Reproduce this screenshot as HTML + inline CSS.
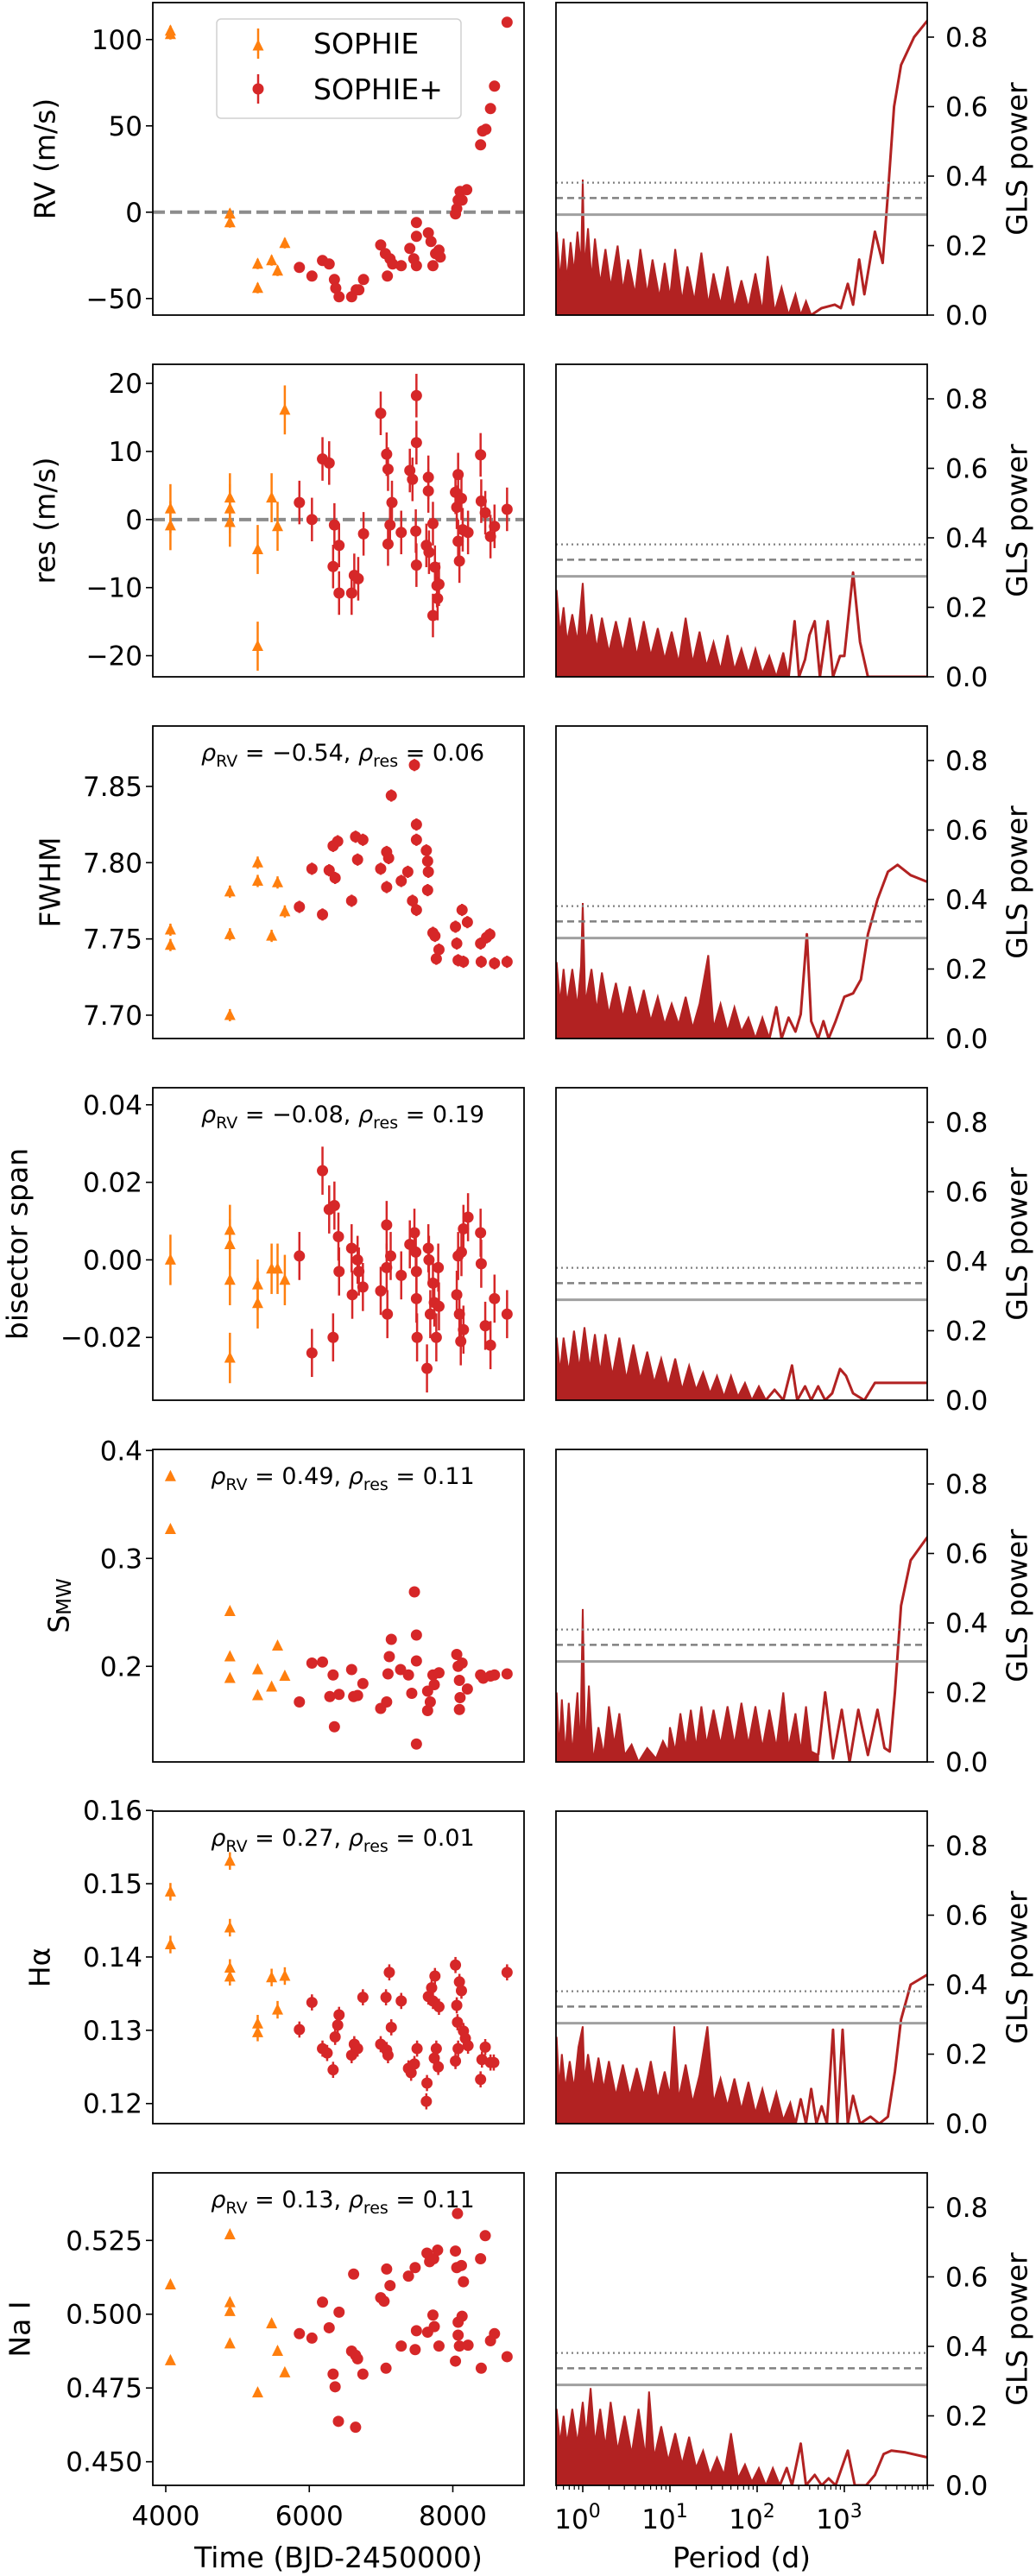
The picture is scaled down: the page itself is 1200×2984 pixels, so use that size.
<!DOCTYPE html>
<html><head><meta charset="utf-8"><style>
html,body{margin:0;padding:0;background:#fff}
svg{display:block}
text{font-family:"DejaVu Sans","Liberation Sans",sans-serif;fill:#000}
</style></head><body>
<svg id="fig" width="1200" height="2984" viewBox="0 0 1200 2984" xmlns="http://www.w3.org/2000/svg"></svg>
<script>
// ---------- data ----------
const rvSophie=[[4065,105],[4065,103],[4894,-1],[4894,-6],[5281,-30],[5281,-44],[5475,-28],[5558,-34],[5659,-18]];
const rvSophiePlus=[[5862,-32],[6037,-37],[6184,-28],[6277,-30],[6350,-39],[6369,-44],[6415,-49],[6590,-49],[6654,-45],[6691,-45],[6756,-39],[6995,-19],[7060,-24],[7088,-37],[7125,-27],[7161,-30],[7281,-31],[7401,-21],[7456,-27],[7493,-6],[7493,-14],[7493,-31],[7659,-12],[7696,-17],[7723,-31],[7760,-24],[7807,-22],[7825,-26],[8037,-1],[8055,2],[8074,7],[8101,12],[8129,7],[8194,13],[8387,39],[8415,47],[8461,48],[8525,60],[8581,73],[8756,110]];
const resSophie=[[4065,1.6],[4065,-0.9],[4894,3.2],[4894,1.6],[4894,-0.4],[5281,-4.4],[5281,-18.6],[5475,3.2],[5558,-1.0],[5659,16.1]];
const resSophiePlus=[[5862,2.5],[6037,0],[6184,8.9],[6277,8.3],[6350,-0.8],[6332,-6.9],[6415,-3.8],[6415,-10.8],[6590,-10.8],[6627,-8.2],[6682,-8.7],[6756,-2.1],[6995,15.6],[7078,9.6],[7097,7.4],[7097,-3.6],[7125,-0.8],[7152,2.5],[7281,-1.9],[7401,7.2],[7438,5.9],[7484,-1.7],[7493,11.3],[7493,-6.7],[7493,18.2],[7631,-3.8],[7659,4.2],[7659,6.2],[7668,-4.8],[7723,-0.6],[7723,-14.1],[7751,-7.0],[7779,-9.7],[7788,-11.6],[7807,-9.5],[8037,4.0],[8055,1.8],[8074,6.6],[8074,-3.2],[8092,-6.1],[8120,3.1],[8138,-1.5],[8212,-1.9],[8387,9.5],[8396,2.7],[8452,1.0],[8525,-2.5],[8581,-1.0],[8756,1.5]];
const fwhmSophie=[[4065,7.756],[4065,7.746],[4894,7.781],[4894,7.753],[4894,7.700],[5281,7.800],[5281,7.788],[5475,7.752],[5558,7.787],[5659,7.768]];
const fwhmSophiePlus=[[5862,7.771],[6037,7.796],[6184,7.766],[6277,7.795],[6332,7.811],[6360,7.790],[6396,7.814],[6590,7.775],[6645,7.817],[6673,7.802],[6747,7.815],[6995,7.796],[7078,7.807],[7106,7.803],[7078,7.784],[7281,7.788],[7373,7.794],[7438,7.775],[7493,7.769],[7465,7.864],[7143,7.844],[7493,7.825],[7493,7.815],[7631,7.808],[7649,7.801],[7659,7.794],[7649,7.782],[7723,7.754],[7751,7.752],[7770,7.737],[7807,7.743],[8037,7.758],[8055,7.747],[8074,7.736],[8129,7.769],[8148,7.735],[8203,7.761],[8387,7.747],[8396,7.735],[8470,7.751],[8516,7.753],[8581,7.734],[8756,7.735]];
const bisSophie=[[4065,0.0],[4894,0.0077],[4894,0.004],[4894,-0.0052],[4894,-0.0253],[5281,-0.0064],[5281,-0.0112],[5475,-0.0023],[5558,-0.0023],[5659,-0.0052]];
const bisSophiePlus=[[5862,0.001],[6037,-0.024],[6184,0.023],[6277,0.013],[6332,-0.020],[6350,0.014],[6406,0.006],[6415,-0.003],[6590,0.003],[6599,-0.009],[6673,0.000],[6691,-0.003],[6747,-0.007],[6995,-0.008],[7078,0.009],[7078,-0.002],[7088,-0.014],[7134,0.001],[7281,-0.004],[7401,0.004],[7465,0.007],[7484,0.002],[7493,-0.003],[7493,-0.010],[7502,-0.020],[7640,-0.028],[7659,0.003],[7668,0.000],[7686,-0.014],[7723,-0.006],[7742,-0.011],[7770,-0.020],[7797,-0.002],[7807,-0.012],[8055,-0.009],[8074,0.001],[8092,-0.014],[8111,-0.021],[8120,0.002],[8148,0.008],[8148,-0.018],[8212,0.011],[8387,0.007],[8396,-0.001],[8452,-0.017],[8525,-0.022],[8581,-0.010],[8756,-0.014]];
const smwSophie=[[4065,0.376],[4065,0.327],[4894,0.251],[4894,0.209],[4894,0.189],[5281,0.197],[5281,0.173],[5475,0.181],[5558,0.219],[5659,0.191]];
const smwSophiePlus=[[5862,0.167],[6037,0.203],[6184,0.204],[6332,0.192],[6350,0.144],[6286,0.172],[6415,0.174],[6590,0.197],[6618,0.172],[6673,0.173],[6747,0.184],[6995,0.161],[7078,0.167],[7097,0.193],[7115,0.209],[7143,0.225],[7272,0.197],[7382,0.192],[7428,0.175],[7465,0.269],[7493,0.229],[7493,0.205],[7493,0.128],[7649,0.177],[7649,0.159],[7686,0.167],[7723,0.192],[7742,0.183],[7807,0.194],[8055,0.211],[8074,0.200],[8092,0.187],[8101,0.171],[8092,0.160],[8129,0.203],[8203,0.179],[8387,0.192],[8424,0.189],[8525,0.191],[8581,0.192],[8756,0.193]];
const haSophie=[[4065,0.1489],[4065,0.1417],[4894,0.1531],[4894,0.1440],[4894,0.1385],[4894,0.1373],[5281,0.1309],[5281,0.1297],[5475,0.1372],[5558,0.1328],[5659,0.1374]];
const haSophiePlus=[[5862,0.1301],[6037,0.1338],[6184,0.1275],[6249,0.1269],[6332,0.1246],[6360,0.1291],[6396,0.1307],[6415,0.1321],[6590,0.1266],[6627,0.1281],[6673,0.1275],[6747,0.1345],[6995,0.1281],[7069,0.1345],[7078,0.1273],[7097,0.1266],[7115,0.1379],[7143,0.1304],[7281,0.1340],[7382,0.1248],[7419,0.1242],[7465,0.1254],[7502,0.1275],[7631,0.1203],[7640,0.1228],[7659,0.1346],[7705,0.1358],[7723,0.1340],[7742,0.1262],[7751,0.1374],[7770,0.1275],[7797,0.1250],[7807,0.1332],[8037,0.1389],[8037,0.1258],[8055,0.1334],[8065,0.1311],[8074,0.1275],[8092,0.1366],[8120,0.1354],[8148,0.1299],[8175,0.1289],[8212,0.1279],[8387,0.1233],[8406,0.1260],[8452,0.1277],[8525,0.1256],[8571,0.1256],[8756,0.1379]];
const naSophie=[[4065,0.510],[4065,0.4843],[4894,0.527],[4894,0.504],[4894,0.501],[4894,0.490],[5281,0.4734],[5475,0.4968],[5558,0.4875],[5659,0.4802]];
const naSophiePlus=[[5862,0.4934],[6037,0.4919],[6184,0.5041],[6277,0.4954],[6332,0.4797],[6360,0.4754],[6406,0.4637],[6415,0.5007],[6590,0.4875],[6618,0.5136],[6645,0.4861],[6645,0.4617],[6673,0.4849],[6747,0.4797],[6995,0.5056],[7042,0.5044],[7069,0.4817],[7078,0.5153],[7125,0.5097],[7281,0.4892],[7382,0.5129],[7475,0.5158],[7475,0.4880],[7493,0.4944],[7640,0.5207],[7649,0.4939],[7677,0.5178],[7723,0.4997],[7733,0.5188],[7742,0.4958],[7788,0.5217],[7807,0.4892],[8037,0.5214],[8037,0.4841],[8065,0.5341],[8055,0.5158],[8074,0.4973],[8074,0.4929],[8092,0.4892],[8120,0.5165],[8129,0.4993],[8148,0.5110],[8212,0.4895],[8387,0.5188],[8396,0.4817],[8452,0.5266],[8525,0.4910],[8581,0.4934],[8756,0.4856]];

// periodograms: [log10(period), GLS power]
const pgRvNoise=[[-0.3,0.24],[-0.26,0.1],[-0.22,0.22],[-0.18,0.1],[-0.14,0.21],[-0.1,0.12],[-0.06,0.24],[-0.02,0.14],[0,0.39],[0.02,0.13],[0.06,0.25],[0.1,0.1],[0.14,0.22],[0.2,0.09],[0.26,0.19],[0.32,0.08],[0.4,0.2],[0.46,0.07],[0.52,0.16],[0.6,0.06],[0.66,0.19],[0.74,0.06],[0.8,0.16],[0.88,0.05],[0.94,0.15],[1.0,0.05],[1.06,0.19],[1.14,0.04],[1.2,0.14],[1.28,0.04],[1.36,0.18],[1.44,0.03],[1.5,0.12],[1.58,0.03],[1.66,0.14],[1.74,0.02],[1.82,0.1],[1.9,0.02],[1.98,0.12],[2.06,0.01],[2.12,0.17],[2.2,0.01],[2.28,0.08],[2.36,0],[2.44,0.06],[2.5,0],[2.56,0.04],[2.62,0]];
const pgRvSmooth=[[2.62,0],[2.74,0.02],[2.89,0.03],[2.96,0.02],[3.04,0.09],[3.1,0.03],[3.17,0.16],[3.23,0.06],[3.35,0.24],[3.44,0.15],[3.5,0.35],[3.57,0.6],[3.65,0.72],[3.8,0.8],[3.96,0.85]];
const pgResNoise=[[-0.3,0.25],[-0.26,0.12],[-0.22,0.2],[-0.18,0.1],[-0.12,0.18],[-0.06,0.1],[0,0.27],[0.04,0.1],[0.1,0.18],[0.16,0.08],[0.22,0.17],[0.3,0.07],[0.38,0.16],[0.46,0.07],[0.54,0.17],[0.62,0.06],[0.7,0.16],[0.78,0.06],[0.86,0.14],[0.94,0.05],[1.02,0.13],[1.1,0.04],[1.18,0.17],[1.26,0.04],[1.34,0.13],[1.42,0.03],[1.5,0.1],[1.58,0.02],[1.66,0.12],[1.74,0.02],[1.82,0.08],[1.9,0.01],[1.98,0.08],[2.06,0.01],[2.14,0.06],[2.22,0],[2.3,0.07],[2.36,0]];
const pgResSmooth=[[2.36,0],[2.43,0.16],[2.48,0],[2.55,0.05],[2.6,0.12],[2.66,0.16],[2.72,0],[2.81,0.16],[2.87,0],[2.95,0.06],[3.0,0.06],[3.1,0.3],[3.18,0.1],[3.27,0],[3.96,0]];
const pgFwhmNoise=[[-0.3,0.22],[-0.26,0.1],[-0.22,0.2],[-0.18,0.1],[-0.12,0.2],[-0.06,0.09],[-0.02,0.21],[0,0.39],[0.03,0.1],[0.1,0.2],[0.16,0.08],[0.22,0.19],[0.3,0.07],[0.38,0.16],[0.46,0.06],[0.54,0.15],[0.62,0.06],[0.7,0.14],[0.78,0.05],[0.86,0.12],[0.94,0.04],[1.02,0.1],[1.1,0.04],[1.18,0.12],[1.26,0.03],[1.34,0.1],[1.44,0.24],[1.5,0.03],[1.58,0.1],[1.66,0.02],[1.74,0.09],[1.82,0.02],[1.9,0.06],[1.98,0],[2.06,0.06],[2.14,0]];
const pgFwhmSmooth=[[2.14,0],[2.22,0.09],[2.28,0],[2.36,0.06],[2.44,0.02],[2.5,0.07],[2.57,0.3],[2.62,0.05],[2.7,0],[2.76,0.05],[2.82,0],[2.9,0.05],[3.0,0.12],[3.1,0.13],[3.19,0.17],[3.27,0.3],[3.38,0.4],[3.5,0.48],[3.61,0.5],[3.76,0.47],[3.96,0.45]];
const pgBisNoise=[[-0.3,0.18],[-0.26,0.08],[-0.22,0.18],[-0.16,0.08],[-0.1,0.2],[-0.04,0.09],[0.02,0.21],[0.08,0.09],[0.14,0.19],[0.2,0.08],[0.26,0.19],[0.34,0.07],[0.42,0.18],[0.5,0.06],[0.58,0.16],[0.66,0.06],[0.74,0.14],[0.82,0.05],[0.9,0.12],[0.98,0.04],[1.06,0.12],[1.14,0.03],[1.22,0.1],[1.3,0.03],[1.38,0.08],[1.46,0.02],[1.54,0.07],[1.62,0.01],[1.7,0.07],[1.78,0.01],[1.86,0.05],[1.94,0],[2.02,0.04],[2.1,0]];
const pgBisSmooth=[[2.1,0],[2.2,0.03],[2.3,0],[2.4,0.1],[2.46,0],[2.55,0.04],[2.62,0],[2.7,0.04],[2.78,0],[2.86,0.02],[2.95,0.09],[3.02,0.07],[3.1,0.02],[3.23,0],[3.35,0.05],[3.5,0.05],[3.96,0.05]];
const pgSmwNoise=[[-0.3,0.2],[-0.27,0.03],[-0.24,0.18],[-0.2,0.02],[-0.16,0.17],[-0.12,0.02],[-0.06,0.2],[-0.03,0.02],[0,0.44],[0.03,0.02],[0.07,0.22],[0.12,0],[0.18,0.1],[0.24,0.02],[0.3,0.16],[0.36,0.05],[0.42,0.14],[0.48,0.02],[0.56,0.05],[0.64,0],[0.74,0.04],[0.84,0.01],[0.92,0.06],[0.98,0.03],[1.0,0.1],[1.06,0.03],[1.12,0.14],[1.18,0.04],[1.24,0.15],[1.3,0.04],[1.36,0.16],[1.42,0.05],[1.5,0.15],[1.58,0.05],[1.66,0.16],[1.74,0.05],[1.82,0.17],[1.9,0.05],[1.98,0.16],[2.06,0.04],[2.14,0.15],[2.22,0.04],[2.3,0.2],[2.36,0.04],[2.44,0.14],[2.5,0.03],[2.56,0.16],[2.62,0.03],[2.7,0.02]];
const pgSmwSmooth=[[2.7,0.02],[2.78,0.2],[2.87,0.01],[2.97,0.15],[3.06,0],[3.16,0.15],[3.27,0.02],[3.38,0.15],[3.46,0.04],[3.52,0.03],[3.58,0.2],[3.65,0.45],[3.76,0.58],[3.96,0.65]];
const pgHaNoise=[[-0.3,0.25],[-0.27,0.1],[-0.24,0.2],[-0.2,0.1],[-0.15,0.18],[-0.1,0.1],[-0.05,0.22],[0,0.28],[0.02,0.12],[0.06,0.2],[0.12,0.1],[0.18,0.19],[0.24,0.1],[0.3,0.18],[0.38,0.08],[0.46,0.17],[0.54,0.08],[0.62,0.16],[0.7,0.08],[0.78,0.18],[0.86,0.07],[0.94,0.15],[1.0,0.08],[1.05,0.28],[1.1,0.07],[1.18,0.17],[1.26,0.06],[1.34,0.14],[1.43,0.28],[1.5,0.06],[1.58,0.13],[1.66,0.05],[1.74,0.13],[1.82,0.04],[1.9,0.12],[1.98,0.03],[2.06,0.1],[2.14,0.02],[2.22,0.09],[2.3,0.01],[2.38,0.06],[2.44,0]];
const pgHaSmooth=[[2.44,0],[2.5,0.07],[2.56,0],[2.62,0.1],[2.68,0],[2.74,0.05],[2.8,0],[2.87,0.27],[2.92,0],[2.98,0.27],[3.04,0],[3.1,0.08],[3.18,0],[3.3,0.02],[3.4,0],[3.5,0.02],[3.58,0.15],[3.65,0.3],[3.76,0.4],[3.96,0.43]];
const pgNaNoise=[[-0.3,0.22],[-0.26,0.12],[-0.22,0.2],[-0.18,0.12],[-0.12,0.22],[-0.06,0.12],[0,0.24],[0.04,0.14],[0.09,0.28],[0.14,0.12],[0.2,0.22],[0.26,0.11],[0.32,0.24],[0.4,0.1],[0.48,0.2],[0.56,0.09],[0.64,0.22],[0.72,0.08],[0.76,0.27],[0.82,0.08],[0.9,0.17],[0.98,0.07],[1.06,0.15],[1.14,0.06],[1.22,0.14],[1.3,0.05],[1.38,0.1],[1.46,0.03],[1.54,0.08],[1.62,0.03],[1.7,0.15],[1.78,0.02],[1.86,0.06],[1.94,0.01],[2.02,0.05],[2.1,0],[2.18,0.05],[2.26,0]];
const pgNaSmooth=[[2.26,0],[2.34,0.05],[2.4,0],[2.5,0.12],[2.56,0],[2.66,0.03],[2.74,0],[2.82,0.02],[2.9,0],[3.04,0.1],[3.12,0],[3.25,0],[3.35,0.03],[3.45,0.09],[3.54,0.1],[3.7,0.095],[3.96,0.08]];

const fapLevels=[0.381,0.337,0.289];
const timeTicks=[4000,6000,8000];
const powerTicks=[0,0.2,0.4,0.6,0.8];
const periodTickExps=[0,1,2,3];

// ---------- layout ----------
const NS='http://www.w3.org/2000/svg';
const svg=document.getElementById('fig');
const LX0=177,LX1=607,RX0=644,RX1=1074,H=362;
function rowTop(i){return 3+419*i;}
function xTime(t){return 192+(t-4000)*166.25/2000;}
function xLogP(l){return 675+l*101;}
function yPow(p,T){return T+H-p*402.5;}
function el(tag,parent){const e=document.createElementNS(NS,tag);(parent||svg).appendChild(e);return e;}
function set(e,o){for(const k in o)e.setAttribute(k,o[k]);return e;}

const rows=[
 {key:'rv',ylab:'RV (m/s)',ylx:52,dom:[-59.6,121.4],ticks:[-50,0,50,100],fmt:v=>String(v).replace('-','\u2212'),s:rvSophie,sp:rvSophiePlus,err:1.2,errO:3,zero:true,ann:null,pn:pgRvNoise,ps:pgRvSmooth},
 {key:'res',ylab:'res (m/s)',ylx:52,dom:[-23.1,22.8],ticks:[-20,-10,0,10,20],fmt:v=>String(v).replace('-','\u2212'),s:resSophie,sp:resSophiePlus,err:3.2,errO:3.6,zero:true,ann:null,pn:pgResNoise,ps:pgResSmooth},
 {key:'fwhm',ylab:'FWHM',ylx:58,dom:[7.6847,7.8896],ticks:[7.70,7.75,7.80,7.85],fmt:v=>v.toFixed(2),s:fwhmSophie,sp:fwhmSophiePlus,err:0.004,errO:0.004,ann:['\u22120.54','0.06'],pn:pgFwhmNoise,ps:pgFwhmSmooth},
 {key:'bisector',ylab:'bisector span',ylx:20,dom:[-0.0362,0.0444],ticks:[-0.02,0,0.02,0.04],fmt:v=>v.toFixed(2).replace('-','\u2212'),s:bisSophie,sp:bisSophiePlus,err:0.0062,errO:0.0065,ann:['\u22120.08','0.19'],pn:pgBisNoise,ps:pgBisSmooth},
 {key:'smw',ylab:'SMW',ylx:68,dom:[0.1114,0.401],ticks:[0.2,0.3,0.4],fmt:v=>v.toFixed(1),s:smwSophie,sp:smwSophiePlus,err:0.0008,errO:0.0008,ann:['0.49','0.11'],pn:pgSmwNoise,ps:pgSmwSmooth},
 {key:'halpha',ylab:'H\u03b1',ylx:46,dom:[0.11726,0.1599],ticks:[0.12,0.13,0.14,0.15,0.16],fmt:v=>v.toFixed(2),s:haSophie,sp:haSophiePlus,err:0.0011,errO:0.0012,ann:['0.27','0.01'],pn:pgHaNoise,ps:pgHaSmooth},
 {key:'nai',ylab:'Na I',ylx:23,dom:[0.442,0.5479],ticks:[0.45,0.475,0.5,0.525],fmt:v=>v.toFixed(3),s:naSophie,sp:naSophiePlus,err:0.0014,errO:0.0015,ann:['0.13','0.11'],pn:pgNaNoise,ps:pgNaSmooth}
];

// clip paths
const defs=el('defs');
rows.forEach((r,i)=>{
  const T=rowTop(i);
  const cp=el('clipPath',defs);cp.setAttribute('id','cl'+i);
  set(el('rect',cp),{x:LX0,y:T,width:LX1-LX0,height:H});
  const cp2=el('clipPath',defs);cp2.setAttribute('id','cr'+i);
  set(el('rect',cp2),{x:RX0,y:T,width:RX1-RX0,height:H});
});

function triangle(g,x,y,color){
  const p=el('polygon',g);
  set(p,{points:`${x},${y-7.5} ${x-6.5},${y+5.5} ${x+6.5},${y+5.5}`,fill:color});
  return p;
}

rows.forEach((r,i)=>{
  const T=rowTop(i),B=T+H;
  const yV=v=>T+(r.dom[1]-v)/(r.dom[1]-r.dom[0])*H;
  // ---- left panel ----
  const gl=el('g');
  
  
  const pts=el('g',gl);pts.setAttribute('clip-path',`url(#cl${i})`);
  if(r.zero){
    const z=el('line',pts);
    set(z,{x1:LX0,x2:LX1,y1:yV(0),y2:yV(0),stroke:'#8c8c8c','stroke-width':4,'stroke-dasharray':'14,6'});
    
    
  }
  r.s.forEach(d=>{
    const x=xTime(d[0]),y=yV(d[1]),e=(r.errO/(r.dom[1]-r.dom[0]))*H;
    const g=el('g',pts);
    
    
    set(el('line',g),{x1:x,x2:x,y1:y-e,y2:y+e,stroke:'#ff7f0e','stroke-width':2.5});
    triangle(g,x,y,'#ff7f0e');
  });
  r.sp.forEach(d=>{
    const x=xTime(d[0]),y=yV(d[1]),e=(r.err/(r.dom[1]-r.dom[0]))*H;
    const g=el('g',pts);
    
    
    set(el('line',g),{x1:x,x2:x,y1:y-e,y2:y+e,stroke:'#d62728','stroke-width':2.5});
    set(el('ellipse',g),{cx:x,cy:y,rx:6.5,ry:6.5,fill:'#d62728'});
  });
  set(el('rect',gl),{x:LX0,y:T,width:LX1-LX0,height:H,fill:'none',stroke:'#000','stroke-width':1.8});
  r.ticks.forEach(v=>{
    const y=yV(v);
    set(el('line',gl),{x1:LX0-8,x2:LX0,y1:y,y2:y,stroke:'#000','stroke-width':1.6});
    const t=el('text',gl);
    set(t,{x:LX0-12,y:y+11,'text-anchor':'end','font-size':31});
    t.textContent=r.fmt(v);
    
    
  });
  const yl=el('text',gl);
  const cy=T+H/2;
  set(yl,{x:r.ylx,y:cy,'text-anchor':'middle','font-size':33,transform:`rotate(-90 ${r.ylx} ${cy})`,'dominant-baseline':'central'});
  if(r.key==='smw'){
    yl.textContent='S';
    const sub=el('tspan',yl);set(sub,{'font-size':23,dy:7});sub.textContent='MW';
  } else yl.textContent=r.ylab;
  
  
  if(r.ann){
    const a=el('text',gl);
    set(a,{x:397,y:T+40,'text-anchor':'middle','font-size':27});
    const p1=el('tspan',a);p1.setAttribute('font-style','italic');p1.textContent='\u03c1';
    const s1=el('tspan',a);set(s1,{'font-size':19,dy:7});s1.textContent='RV';
    const m1=el('tspan',a);m1.setAttribute('dy',-7);m1.textContent=' = '+r.ann[0]+', ';
    const p2=el('tspan',a);p2.setAttribute('font-style','italic');p2.textContent='\u03c1';
    const s2=el('tspan',a);set(s2,{'font-size':19,dy:7});s2.textContent='res';
    const m2=el('tspan',a);m2.setAttribute('dy',-7);m2.textContent=' = '+r.ann[1];
    
    
  }
  // ---- right panel ----
  const gr=el('g');
  
  
  const pc=el('g',gr);pc.setAttribute('clip-path',`url(#cr${i})`);
  const ptsN=r.pn.map(d=>xLogP(d[0]).toFixed(1)+','+yPow(d[1],T).toFixed(1));
  const poly=el('polygon',pc);
  set(poly,{points:`${xLogP(r.pn[0][0])},${B} `+ptsN.join(' ')+` ${xLogP(r.pn[r.pn.length-1][0])},${B}`,fill:'#b22222',stroke:'#b22222','stroke-width':2,'stroke-linejoin':'miter'});
  
  
  const pl=el('polyline',pc);
  set(pl,{points:r.ps.map(d=>xLogP(d[0]).toFixed(1)+','+yPow(d[1],T).toFixed(1)).join(' '),fill:'none',stroke:'#b22222','stroke-width':3,'stroke-linejoin':'round'});
  
  
  const styles=[{'stroke-dasharray':'2,4',stroke:'#808080','stroke-width':2.2},{'stroke-dasharray':'8,5',stroke:'#808080','stroke-width':2.5},{stroke:'#a0a0a0','stroke-width':3}];
  fapLevels.forEach((f,k)=>{
    const ln=el('line',gr);
    set(ln,Object.assign({x1:RX0,x2:RX1,y1:yPow(f,T),y2:yPow(f,T)},styles[k]));
    
    
  });
  set(el('rect',gr),{x:RX0,y:T,width:RX1-RX0,height:H,fill:'none',stroke:'#000','stroke-width':1.8});
  powerTicks.forEach(p=>{
    const y=yPow(p,T);
    set(el('line',gr),{x1:RX1,x2:RX1+8,y1:y,y2:y,stroke:'#000','stroke-width':1.6});
    const t=el('text',gr);
    set(t,{x:RX1+21,y:y+11,'font-size':31});
    t.textContent=p.toFixed(1);
    
    
  });
  const gl2=el('text',gr);
  set(gl2,{x:1178,y:cy,'text-anchor':'middle','font-size':33,transform:`rotate(-90 1178 ${cy})`,'dominant-baseline':'central'});
  gl2.textContent='GLS power';
  
  
});

// ---- bottom axes ----
const B=rowTop(6)+H;
timeTicks.forEach(t=>{
  const x=xTime(t);
  set(el('line'),{x1:x,x2:x,y1:B,y2:B+8,stroke:'#000','stroke-width':1.6});
  const tx=el('text');
  set(tx,{x:x,y:B+46,'text-anchor':'middle','font-size':31});
  tx.textContent=String(t);
  
  
});
for(let e=-1;e<=3;e++){
  for(let m=1;m<10;m++){
    const l=e+Math.log10(m);
    const x=xLogP(l);
    if(x<RX0-0.5||x>RX1+0.5)continue;
    const major=(m===1);
    set(el('line'),{x1:x,x2:x,y1:B,y2:B+(major?8:5),stroke:'#000','stroke-width':major?1.6:1.2});
  }
}
periodTickExps.forEach(e=>{
  const x=xLogP(e);
  const tx=el('text');
  set(tx,{x:x-6,y:B+50,'text-anchor':'middle','font-size':31});
  tx.textContent='10';
  const sp=el('tspan',tx);set(sp,{'font-size':22,dy:-13});sp.textContent=String(e);
  
  
});
const xl1=el('text');
set(xl1,{x:392,y:2974,'text-anchor':'middle','font-size':33});
xl1.textContent='Time (BJD-2450000)';


const xl2=el('text');
set(xl2,{x:859,y:2974,'text-anchor':'middle','font-size':33});
xl2.textContent='Period (d)';



// ---- legend ----
const lg=el('g');


set(el('rect',lg),{x:251,y:22,width:283,height:115,rx:5,fill:'#fff','fill-opacity':0.85,stroke:'#d0d0d0','stroke-width':1.5});
const le1=el('g',lg);


set(el('line',le1),{x1:299,x2:299,y1:33,y2:68,stroke:'#ff7f0e','stroke-width':2.5});
triangle(le1,299,53,'#ff7f0e');
const lt1=el('text',le1);set(lt1,{x:363,y:62,'font-size':33});lt1.textContent='SOPHIE';
const le2=el('g',lg);


set(el('line',le2),{x1:299,x2:299,y1:86,y2:120,stroke:'#d62728','stroke-width':2.5});
set(el('ellipse',le2),{cx:299,cy:103,rx:6.5,ry:6.5,fill:'#d62728'});
const lt2=el('text',le2);set(lt2,{x:363,y:115,'font-size':33});lt2.textContent='SOPHIE+';
</script>
</body></html>
